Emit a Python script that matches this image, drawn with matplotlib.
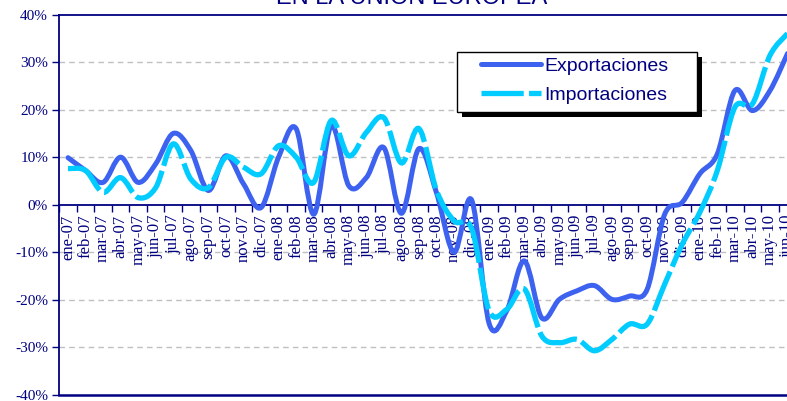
import numpy as np
import matplotlib
matplotlib.use("Agg")
import matplotlib.pyplot as plt
from matplotlib.path import Path
from matplotlib.patches import PathPatch, Rectangle
from matplotlib.lines import Line2D

meses = ["ene-07", "feb-07", "mar-07", "abr-07", "may-07", "jun-07", "jul-07", "ago-07",
         "sep-07", "oct-07", "nov-07", "dic-07", "ene-08", "feb-08", "mar-08", "abr-08",
         "may-08", "jun-08", "jul-08", "ago-08", "sep-08", "oct-08", "nov-08", "dic-08",
         "ene-09", "feb-09", "mar-09", "abr-09", "may-09", "jun-09", "jul-09", "ago-09",
         "sep-09", "oct-09", "nov-09", "dic-09", "ene-10", "feb-10", "mar-10", "abr-10",
         "may-10", "jun-10"]

exportaciones = [9.9, 7.2, 4.7, 10.0, 4.7, 8.6, 15.0, 11.4, 3.0, 10.3, 4.4, -0.6,
                 10.0, 16.0, -2.0, 16.6, 4.0, 5.7, 12.0, -1.8, 11.8, 2.5, -10.0, 1.0,
                 -25.0, -22.3, -11.8, -23.8, -19.9, -18.1, -17.0, -19.9, -19.2, -17.8, -2.0, 0.5,
                 6.5, 10.7, 24.0, 19.8, 24.0, 31.8]

importaciones = [7.6, 7.2, 2.6, 5.7, 1.5, 3.6, 12.8, 5.4, 3.6, 10.0, 7.9, 6.5,
                 12.4, 10.0, 4.7, 17.7, 10.3, 15.2, 18.3, 8.8, 16.0, 3.0, -3.4, -5.0,
                 -22.3, -22.0, -17.7, -27.6, -29.0, -28.3, -30.7, -28.3, -25.1, -25.1, -16.7, -8.3,
                 -1.6, 7.2, 20.5, 21.2, 31.4, 36.0]

titulo = "EN LA UNIÓN EUROPEA"
series = ["Exportaciones", "Importaciones"]

azul = "#3d62f0"
cian = "#00ccff"
navy = "#000080"


def curva(x, y):
    # linea suavizada tipo Excel (Catmull-Rom -> Bezier)
    verts = [(x[0], y[0])]
    codes = [Path.MOVETO]
    n = len(x)
    for i in range(n - 1):
        a = i - 1 if i > 0 else i
        d = i + 2 if i + 2 < n else i + 1
        c1 = (x[i] + (x[i + 1] - x[a]) / 6, y[i] + (y[i + 1] - y[a]) / 6)
        c2 = (x[i + 1] - (x[d] - x[i]) / 6, y[i + 1] - (y[d] - y[i]) / 6)
        verts += [c1, c2, (x[i + 1], y[i + 1])]
        codes += [Path.CURVE4] * 3
    return Path(verts, codes)


W, H = 787, 401
fig = plt.figure(figsize=(W / 100, H / 100), dpi=100)
ax = fig.add_axes([59.2 / W, 1 - 395 / H, 42 * 17.55 / W, 380.5 / H])

x = np.arange(len(meses))
ax.set_xlim(-0.5, len(meses) - 0.5)
ax.set_ylim(-40, 40)

# grid
for v in [-30, -20, -10, 10, 20, 30]:
    ax.axhline(v, color="#c0c0c0", lw=1, dashes=(4, 3), zorder=1)

ax.add_patch(PathPatch(curva(x, exportaciones), fill=False, edgecolor=azul, lw=3.6,
                       capstyle="round", joinstyle="round", zorder=3))
ax.add_patch(PathPatch(curva(x, importaciones), fill=False, edgecolor=cian, lw=3.8,
                       linestyle=(0, (8, 1)), zorder=4))

# ejes
for s in ["left", "top", "right"]:
    ax.spines[s].set_color(navy)
    ax.spines[s].set_linewidth(1.3)
ax.spines["bottom"].set_position(("data", 0))
ax.spines["bottom"].set_color(navy)
ax.spines["bottom"].set_linewidth(1.3)
ax.axhline(-40, color=navy, lw=1.8, clip_on=False, zorder=5)

ax.set_yticks([-40, -30, -20, -10, 0, 10, 20, 30, 40])
ax.set_yticklabels(["%d%%" % v for v in [-40, -30, -20, -10, 0, 10, 20, 30, 40]],
                   fontfamily="Liberation Serif", fontsize=11, color=navy)
ax.tick_params(axis="y", direction="out", length=5, width=1, color=navy, pad=3)

ax.set_xticks(np.arange(len(meses) + 1) - 0.5)
ax.set_xticklabels([])
ax.set_xticks(x, minor=True)
ax.set_xticklabels(meses, minor=True, rotation=90, fontfamily="Liberation Serif",
                   fontsize=12, color=navy, va="top", ha="center")
ax.tick_params(axis="x", which="major", direction="out", length=5, width=1, color=navy)
ax.tick_params(axis="x", which="minor", length=0, pad=7)

# titulo (cortado arriba)
fig.text(412 / W, 1 - 4 / H, titulo, ha="center", va="baseline", fontsize=17,
         color=navy, fontfamily="Liberation Sans")

# leyenda
fig.patches.append(Rectangle((462 / W, 1 - 117 / H), 240 / W, 60 / H,
                             transform=fig.transFigure, facecolor="black",
                             edgecolor="none", zorder=10))
fig.patches.append(Rectangle((457 / W, 1 - 112 / H), 240 / W, 60 / H,
                             transform=fig.transFigure, facecolor="white",
                             edgecolor="black", lw=1, zorder=11))
handles = [Line2D([], [], color=azul, lw=3.6, solid_capstyle="round"),
           Line2D([], [], color=cian, lw=3.8, dashes=(8, 1))]
leg = fig.legend(handles, series, loc="upper left",
                 bbox_to_anchor=(481 / W, 1 - 57 / H), frameon=False,
                 prop={"family": "Liberation Sans", "size": 14},
                 handlelength=3.1, handletextpad=0.15, labelspacing=0.6,
                 borderpad=0, borderaxespad=0)
leg.set_zorder(12)
for t in leg.get_texts():
    t.set_color(navy)

fig.savefig("out.png", dpi=100)
